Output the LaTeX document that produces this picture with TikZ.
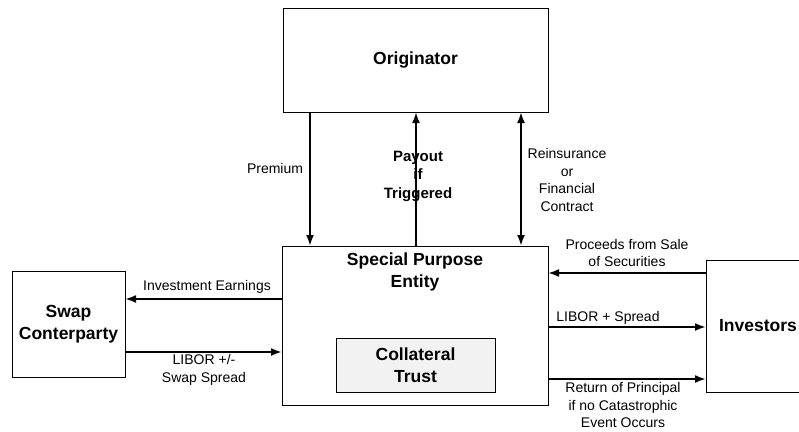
\documentclass[tikz,border=0pt]{standalone}
\usepackage{fontspec}
\setmainfont{Liberation Sans}
\usetikzlibrary{arrows.meta}

\begin{document}
\begin{tikzpicture}[x=1pt,y=-1pt,every path/.style={>={Latex[length=11pt,width=8pt]}},
  box/.style={draw,rectangle,line width=1pt,inner sep=0pt,outer sep=0pt},
  ttl/.style={font=\fontsize{17.5}{21.5}\selectfont\bfseries,align=center,inner sep=0pt},
  lbl/.style={font=\fontsize{14}{17.5}\selectfont,align=center,inner sep=0pt},
  flow/.style={line width=2pt}]
\useasboundingbox (0,0) rectangle (799,431);
% boxes
\node[box,ttl,minimum width=265pt,minimum height=104pt] (orig) at (415.5,60) {Originator};
\node[box,minimum width=266pt,minimum height=159pt]      (spe)  at (415,325.5) {};
\node[ttl]                                                (spettl) at (415,272) {Special Purpose\\Entity};
\node[box,ttl,fill=black!5,minimum width=159pt,minimum height=54pt] (trust) at (415.5,365) {Collateral\\Trust};
\node[box,ttl,minimum width=113pt,minimum height=106pt] (swap) at (68.5,324) {Swap\\Conterparty};
\node[box,ttl,minimum width=104pt,minimum height=132pt] (inv)  at (758,326) {Investors};
% where the connectors run
\coordinate (prem)  at (310,0);
\coordinate (pay)   at (416,0);
\coordinate (rein)  at (521,0);
\coordinate (earn)  at (0,299);
\coordinate (swsp)  at (0,352);
\coordinate (proc)  at (0,273);
\coordinate (lspr)  at (0,327);
\coordinate (retp)  at (0,379);
\draw[flow,->]  (orig.south -| prem) -- (spe.north -| prem);
\draw[flow,->]  (spe.north -| pay)   -- (orig.south -| pay);
\draw[flow,<->] (orig.south -| rein) -- (spe.north -| rein);
\draw[flow,->]  (spe.west |- earn)  -- (swap.east |- earn);
\draw[flow,->]  (swap.east |- swsp) -- (spe.west |- swsp);
\draw[flow,->]  (inv.west |- proc)  -- (spe.east |- proc);
\draw[flow,->]  (spe.east |- lspr)  -- (inv.west |- lspr);
\draw[flow,->]  (spe.east |- retp)  -- (inv.west |- retp);
% labels
\node[lbl] (premlbl)  at (275,168) {Premium};
\node[lbl,font=\fontsize{15}{18.5}\selectfont\bfseries] (paylbl) at (418,176) {Payout\\if\\Triggered};
\node[lbl] (reinlbl)  at (567,180) {Reinsurance\\or\\Financial\\Contract};
\node[lbl] (earnlbl)  at (207,287) {Investment Earnings};
\node[lbl] (swsplbl)  at (204,370) {LIBOR +/-\\Swap Spread};
\node[lbl] (proclbl)  at (627,253) {Proceeds from Sale\\of Securities};
\node[lbl] (lsprlbl)  at (608,318) {LIBOR + Spread};
\node[lbl] (retplbl)  at (623,405) {Return of Principal\\if no Catastrophic\\Event Occurs};
\end{tikzpicture}
\end{document}
